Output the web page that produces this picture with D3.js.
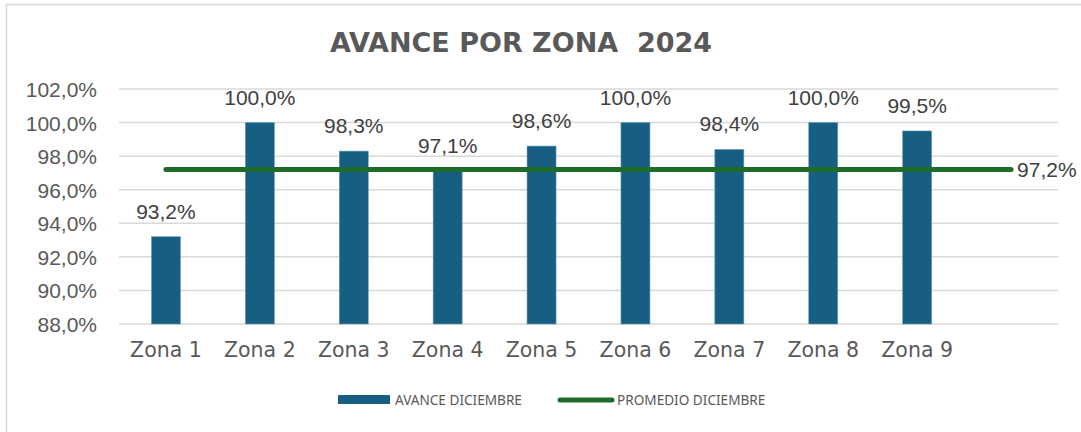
<!DOCTYPE html>
<html><head><meta charset="utf-8">
<script src="https://cdn.jsdelivr.net/npm/d3@7"></script>
<style>body{margin:0;background:#fff;}svg{display:block;}</style>
</head><body>
<svg id="c" width="1081" height="432"></svg>
<script>
const categories = ["Zona 1","Zona 2","Zona 3","Zona 4","Zona 5","Zona 6","Zona 7","Zona 8","Zona 9",""];
const avance = [0.932, 1.000, 0.983, 0.971, 0.986, 1.000, 0.984, 1.000, 0.995];
const promedio = [0.972,0.972,0.972,0.972,0.972,0.972,0.972,0.972,0.972,0.972];
const yTicks = [0.88,0.90,0.92,0.94,0.96,0.98,1.00,1.02];
const title = "AVANCE POR ZONA\u00a0\u00a02024";
const legendLabels = ["AVANCE DICIEMBRE","PROMEDIO DICIEMBRE"];

const svg = d3.select("#c");
const fmt = v => d3.format(".1f")(v*100).replace(".", ",") + "%";
const barColor = "#175f82", lineColor = "#1e6b2a";

svg.append("rect").attr("x",6.5).attr("y",4.5).attr("width",1090).attr("height",440)
  .attr("fill","#fff").attr("stroke","#d9d9d9").attr("stroke-width",1.5);

const x = d3.scaleBand().domain(categories).range([119,1058]).padding(0);
const y = d3.scaleLinear().domain([0.88,1.02]).range([324,89]);
const bw = 29;

// gridlines
svg.append("g").selectAll("line").data(yTicks).join("line")
  .attr("x1",119).attr("x2",1058).attr("y1",d=>y(d)).attr("y2",d=>y(d))
  .attr("stroke","#d9d9d9").attr("stroke-width",1.5);

// y axis labels
const yAxis = d3.axisLeft(y).tickValues(yTicks).tickFormat(fmt).tickSize(0).tickPadding(0);
const ga = svg.append("g").attr("transform","translate(97,0)").call(yAxis);
ga.select(".domain").remove();
ga.selectAll("text").attr("font-family","'Liberation Sans', Arial, sans-serif")
  .attr("font-size",21).attr("fill","#595959").attr("dy","0.36em");

// bars
svg.append("g").selectAll("rect").data(avance).join("rect")
  .attr("x",(d,i)=>x(categories[i])+x.bandwidth()/2-bw/2)
  .attr("width",bw).attr("y",d=>y(d)).attr("height",d=>y(0.88)-y(d))
  .attr("fill",barColor).attr("stroke","#6e9bb3").attr("stroke-width",0.6);

// data labels
svg.append("g").selectAll("text").data(avance).join("text")
  .attr("x",(d,i)=>x(categories[i])+x.bandwidth()/2)
  .attr("y",d=>y(d)-18).attr("text-anchor","middle")
  .attr("font-family","'Liberation Sans', Arial, sans-serif").attr("font-size",21)
  .attr("fill","#404040").text(fmt);

// average line
const line = d3.line().x((d,i)=>x(categories[i])+x.bandwidth()/2).y(d=>y(d));
svg.append("path").datum(promedio).attr("d",line).attr("fill","none")
  .attr("stroke",lineColor).attr("stroke-width",5).attr("stroke-linecap","round");
const last = promedio.length-1;
svg.append("text").attr("x",x(categories[last])+x.bandwidth()/2+6).attr("y",y(promedio[last]))
  .attr("dy","0.36em").attr("font-family","'Liberation Sans', Arial, sans-serif")
  .attr("font-size",21).attr("fill","#404040").text(fmt(promedio[last]));

// x axis labels
const xAxis = d3.axisBottom(x).tickSize(0).tickPadding(0);
const gx = svg.append("g").attr("transform","translate(0,342)").call(xAxis);
gx.select(".domain").remove();
gx.selectAll("text").attr("font-family","'DejaVu Sans', Verdana, sans-serif")
  .attr("font-size",20.5).attr("fill","#595959").attr("dy","0.71em");

// title
svg.append("text").attr("x",521).attr("y",52).attr("text-anchor","middle")
  .attr("font-family","'DejaVu Sans', Verdana, sans-serif").attr("font-weight","bold")
  .attr("font-size",27).attr("fill","#595959").text(title);

// legend
const lg = svg.append("g").attr("font-family","'Noto Sans', sans-serif").attr("font-size",13.6).attr("fill","#595959");
lg.append("rect").attr("x",338).attr("y",395).attr("width",52).attr("height",9).attr("fill",barColor);
lg.append("text").attr("x",395).attr("y",404.5).text(legendLabels[0]);
lg.append("line").attr("x1",560).attr("x2",612).attr("y1",400).attr("y2",400)
  .attr("stroke",lineColor).attr("stroke-width",5).attr("stroke-linecap","round");
lg.append("text").attr("x",617).attr("y",404.5).text(legendLabels[1]);
</script>
</body></html>
